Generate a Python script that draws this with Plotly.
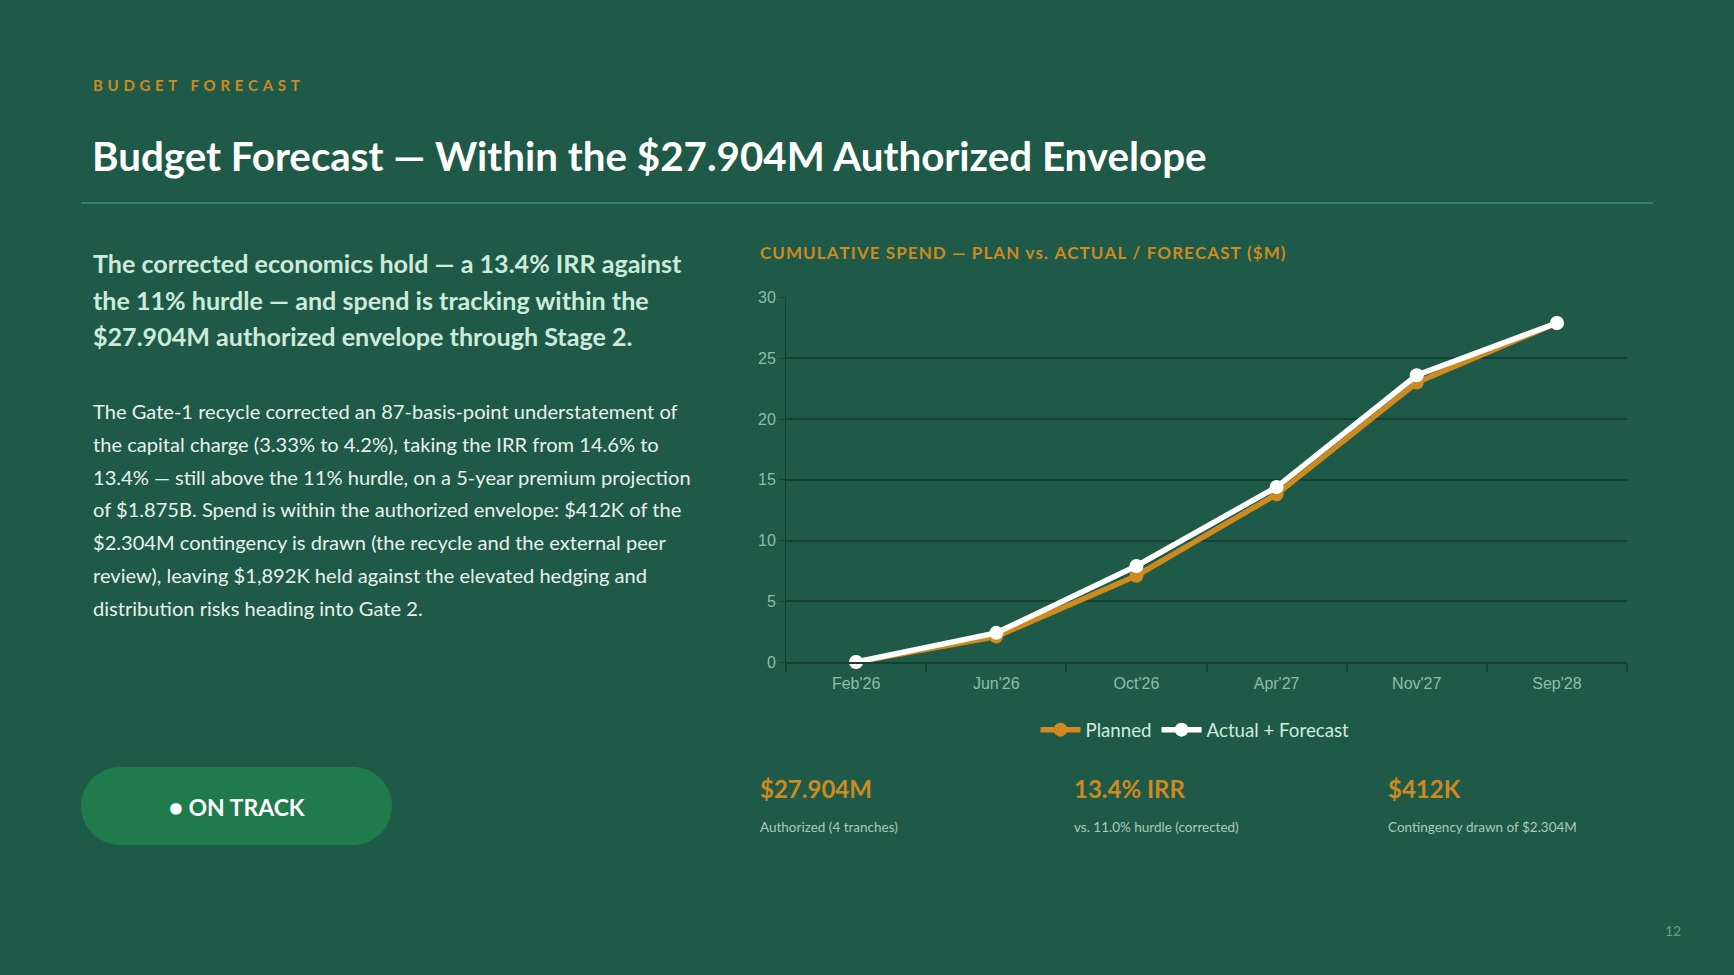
import plotly.graph_objects as go

W, H = 1734, 975

# ---- data ----
periods = ["Feb'26", "Jun'26", "Oct'26", "Apr'27", "Nov'27", "Sep'28"]
planned = [0.0, 2.1, 7.1, 13.8, 23.0, 27.904]
actual_forecast = [0.0, 2.4, 7.9, 14.4, 23.6, 27.904]
y_ticks = [0, 5, 10, 15, 20, 25, 30]

kpi_values = ["$27.904M", "13.4% IRR", "$412K"]
kpi_labels = ["Authorized (4 tranches)", "vs. 11.0% hurdle (corrected)", "Contingency drawn of $2.304M"]

lead_lines = [
    "The corrected economics hold — a 13.4% IRR against",
    "the 11% hurdle — and spend is tracking within the",
    "$27.904M authorized envelope through Stage 2.",
]
body_lines = [
    "The Gate-1 recycle corrected an 87-basis-point understatement of",
    "the capital charge (3.33% to 4.2%), taking the IRR from 14.6% to",
    "13.4% — still above the 11% hurdle, on a 5-year premium projection",
    "of $1.875B. Spend is within the authorized envelope: $412K of the",
    "$2.304M contingency is drawn (the recycle and the external peer",
    "review), leaving $1,892K held against the elevated hedging and",
    "distribution risks heading into Gate 2.",
]

# ---- style ----
BG = "#1e5a47"
ORANGE = "#cf8a1f"
GRID = "#143f31"
TICK_TXT = "#8fbea8"
LATO = "Lato, 'Open Sans', sans-serif"


def px(x):
    return x / W


def py(y):
    return 1 - y / H


def spaced(s, sep="\u200a"):
    return sep.join(list(s))


fig = go.Figure()
fig.add_trace(go.Scatter(
    x=periods, y=planned, name="Planned", mode="lines+markers", cliponaxis=False,
    line=dict(color=ORANGE, width=5.5), marker=dict(color=ORANGE, size=14),
))
fig.add_trace(go.Scatter(
    x=periods, y=actual_forecast, name="Actual + Forecast", mode="lines+markers", cliponaxis=False,
    line=dict(color="#ffffff", width=5.5), marker=dict(color="#ffffff", size=14),
))

fig.update_layout(
    width=W, height=H,
    margin=dict(l=0, r=0, t=0, b=0, pad=0, autoexpand=False),
    paper_bgcolor=BG, plot_bgcolor=BG,
    showlegend=True,
    legend=dict(
        orientation="h", x=px(1195), xanchor="center", y=py(730), yanchor="middle",
        font=dict(family=LATO, size=18.7, color="#d3ebdf"), bgcolor="rgba(0,0,0,0)",
        itemwidth=40,
    ),
    xaxis=dict(
        domain=[px(786), px(1627)], type="category", range=[-0.5, 5.5],
        showgrid=False, showline=True, linecolor=GRID, linewidth=2,
        ticks="outside", tickson="boundaries", ticklen=8, tickcolor=GRID, tickwidth=2,
        ticklabelstandoff=6,
        tickfont=dict(family="Liberation Sans, Arial", size=16, color=TICK_TXT),
        zeroline=False, fixedrange=True, automargin=False,
    ),
    yaxis=dict(
        domain=[py(662), py(297.5)], range=[0, 30], tickvals=y_ticks,
        showgrid=True, gridcolor=GRID, gridwidth=2,
        showline=True, linecolor=GRID, linewidth=1,
        ticks="outside", ticklen=6, tickcolor=GRID, tickwidth=1,
        tickfont=dict(family="Liberation Sans, Arial", size=16, color=TICK_TXT),
        zeroline=False, fixedrange=True, automargin=False,
    ),
)

ann = []


def text(x, y, s, size, color, bold=False, anchor="left", family=LATO):
    ann.append(dict(
        x=px(x), y=py(y), xref="paper", yref="paper", text=s, showarrow=False,
        xanchor=anchor, yanchor="middle", align=anchor,
        font=dict(family=family, size=size, color=color, weight=700 if bold else 400),
    ))


# header
text(91, 85, spaced("BUDGET FORECAST", "\u2009\u2009\u200a"), 15, ORANGE, bold=True)
text(90, 155, "Budget Forecast — Within the $27.904M Authorized Envelope", 40.3, "#ffffff", bold=True)

# lead
for i, line in enumerate(lead_lines):
    text(91, 263 + i * 36.7, line, 25.1, "#cdeadb", bold=True)

# body
for i, line in enumerate(body_lines):
    text(91, 411 + i * 32.8, line, 20.1, "#e8f1ec")

# chart title
text(758, 252, spaced("CUMULATIVE SPEND — PLAN vs. ACTUAL / FORECAST ($M)"), 17, ORANGE, bold=True)

# KPIs
kpi_x = [758, 1072, 1386]
for x, v, l in zip(kpi_x, kpi_values, kpi_labels):
    text(x, 788, v, 24, ORANGE, bold=True)
    text(x, 827, l, 13.5, "#a9cbbb")

# button label
text(237, 807, "● ON TRACK", 23, "#ffffff", bold=True, anchor="center")

# page number
text(1673, 930, "12", 14, "#6a9a86", anchor="center")

fig.update_layout(annotations=ann)

# divider line
shapes = [dict(
    type="line", xref="paper", yref="paper",
    x0=px(81), x1=px(1653), y0=py(203), y1=py(203),
    line=dict(color="#2b8566", width=2),
)]

# pill button
x0, x1, y0, y1 = 81, 392, 767, 845
r = (y1 - y0) / 2
k = 0.5523 * r


def P(x, y):
    return f"{px(x):.6f},{py(y):.6f}"


path = (
    f"M {P(x0 + r, y0)} L {P(x1 - r, y0)} "
    f"C {P(x1 - r + k, y0)} {P(x1, y0 + r - k)} {P(x1, y0 + r)} "
    f"C {P(x1, y0 + r + k)} {P(x1 - r + k, y1)} {P(x1 - r, y1)} "
    f"L {P(x0 + r, y1)} "
    f"C {P(x0 + r - k, y1)} {P(x0, y1 - r + k)} {P(x0, y1 - r)} "
    f"C {P(x0, y1 - r - k)} {P(x0 + r - k, y0)} {P(x0 + r, y0)} Z"
)
shapes.append(dict(type="path", xref="paper", yref="paper", path=path,
                   fillcolor="#1f7a4c", line=dict(width=0), layer="below"))
fig.update_layout(shapes=shapes)

fig.write_html("out.html")
